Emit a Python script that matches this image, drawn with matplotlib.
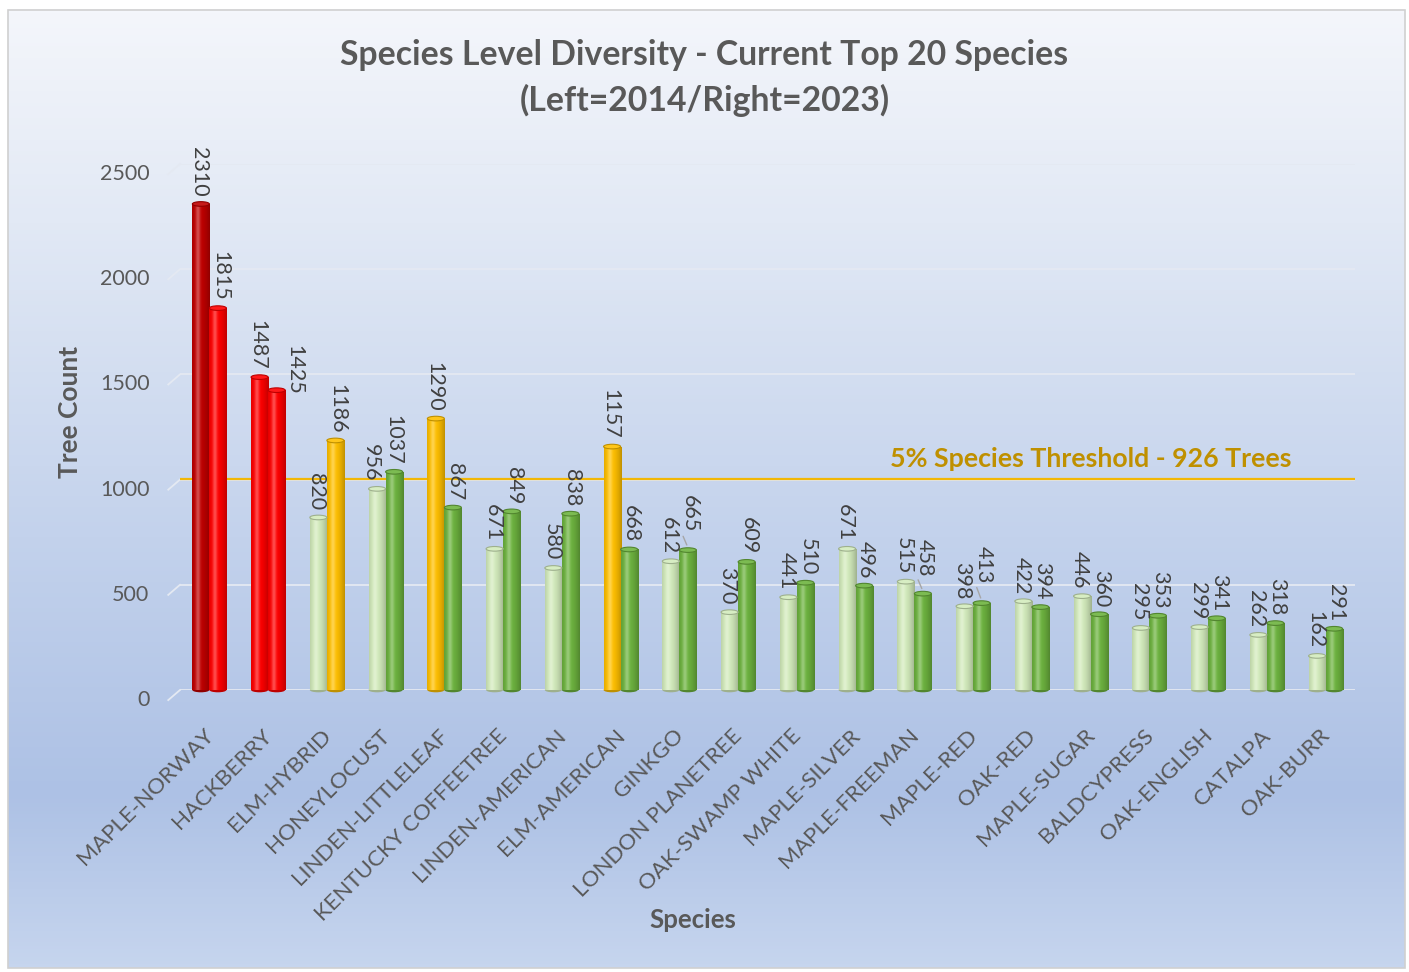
import numpy as np
import matplotlib
matplotlib.use("Agg")
import matplotlib.pyplot as plt
from matplotlib.colors import to_rgb, LinearSegmentedColormap
from matplotlib.patches import Ellipse, Rectangle
from matplotlib.transforms import ScaledTranslation

plt.rcParams['font.family'] = ['Lato', 'DejaVu Sans']

# ---- data ----
species = ["MAPLE-NORWAY", "HACKBERRY", "ELM-HYBRID", "HONEYLOCUST", "LINDEN-LITTLELEAF",
           "KENTUCKY COFFEETREE", "LINDEN-AMERICAN", "ELM-AMERICAN", "GINKGO", "LONDON PLANETREE",
           "OAK-SWAMP WHITE", "MAPLE-SILVER", "MAPLE-FREEMAN", "MAPLE-RED", "OAK-RED",
           "MAPLE-SUGAR", "BALDCYPRESS", "OAK-ENGLISH", "CATALPA", "OAK-BURR"]
count_2014 = [2310, 1487, 820, 956, 1290, 671, 580, 1157, 612, 370,
              441, 671, 515, 398, 422, 446, 295, 299, 262, 162]
count_2023 = [1815, 1425, 1186, 1037, 867, 849, 838, 668, 665, 609,
              510, 496, 458, 413, 394, 360, 353, 341, 318, 291]
# colour class of each bar, as coloured in the chart
class_2014 = ["darkred", "red", "pale", "pale", "gold", "pale", "pale", "gold", "pale", "pale",
              "pale", "pale", "pale", "pale", "pale", "pale", "pale", "pale", "pale", "pale"]
class_2023 = ["red", "red", "gold", "green", "green", "green", "green", "green", "green", "green",
              "green", "green", "green", "green", "green", "green", "green", "green", "green", "green"]
y_ticks = [0, 500, 1000, 1500, 2000, 2500]
threshold_label = "5% Species Threshold - 926 Trees"
threshold_drawn = 1005   # where the threshold line sits in the picture

palette = {"darkred": "#C00000", "red": "#FF0000", "gold": "#FFC000",
           "pale": "#D3EBBC", "green": "#6DB33F"}
TXT = "#595959"

# label nudges in pixels (dx, dy) where Excel moved a data label; True = leader line
nudge_2014 = {3: (-4, 0, False)}
nudge_2023 = {1: (16, -12, False), 3: (-3, 0, False), 8: (0, 10, True),
              12: (0, 10, True), 13: (0, 12, True)}

fig = plt.figure(figsize=(14.09, 9.72), dpi=100)
px = fig.dpi_scale_trans


def shift(dx, dy):
    return ScaledTranslation(dx / 100, dy / 100, px)


# background: gradient panel with thin grey border
bg = fig.add_axes([0, 0, 1, 1], zorder=-10)
bg.set_xlim(0, 1409)
bg.set_ylim(972, 0)
bg.axis("off")
grad = LinearSegmentedColormap.from_list(
    "bg", [(0.0, "#F4F6FB"), (0.22, "#E2E9F5"), (0.55, "#C3D2EC"),
           (0.82, "#ADC1E5"), (1.0, "#C6D5EE")])
bg.imshow(np.linspace(0, 1, 256).reshape(-1, 1), cmap=grad, aspect="auto",
          extent=(8, 1405, 968, 10), zorder=0)
bg.add_patch(Rectangle((8, 10), 1397, 958, fill=False, edgecolor="#D0D0D0", lw=1.2, zorder=1))

ax = fig.add_axes([180 / 1409, (972 - 690) / 972, 1175 / 1409, 526 / 972])
ax.patch.set_alpha(0)
for s in ax.spines.values():
    s.set_visible(False)

n = len(species)
x = np.arange(n)
bw = 0.29

# gridlines with a small 3-D stub on the left
grid_col = "#E4E9F2"
for v in y_ticks:
    ax.axhline(v, color=grid_col, lw=1.3, zorder=0)
    ax.plot([-0.5 - 0.2, -0.5], [v - 48, v], color=grid_col, lw=1.3, clip_on=False, zorder=0)


def shaded(base, t):
    b = np.array(to_rgb(base))
    k = np.cos(np.pi * (t - 0.38) / 1.35)
    c = b[None, :] * (0.72 + 0.28 * k[:, None])
    hl = 0.30 * np.exp(-((t - 0.33) / 0.13) ** 2)
    c = c * (1 - hl[:, None]) + hl[:, None]
    return np.clip(c, 0, 1)


t = np.linspace(0, 1, 64)
ell_h = 22
for offs, side, vals, cls, nudge in [(-bw / 2, -2, count_2014, class_2014, nudge_2014),
                                     (bw / 2, 2, count_2023, class_2023, nudge_2023)]:
    cols = [palette[c] for c in cls]
    bars = ax.bar(x + offs, vals, width=bw, color=cols, zorder=2, lw=0)
    for b, c in zip(bars, cols):
        x0, h = b.get_x(), b.get_height()
        img = shaded(c, t)[None, :, :]
        im = ax.imshow(img, extent=(x0, x0 + bw, 0, h), aspect="auto", zorder=3)
        im.set_clip_path(b)
        edge = np.array(to_rgb(c)) * 0.75
        top = np.array(to_rgb(c)) * 0.9 + 0.1
        ax.add_patch(Ellipse((x0 + bw / 2, h), bw, ell_h, facecolor=top, edgecolor=edge,
                             lw=0.8, zorder=4))
        ax.add_patch(Ellipse((x0 + bw / 2, 0), bw, ell_h, facecolor=edge, lw=0,
                             zorder=1.5, clip_on=False))
    for i, (xi, v) in enumerate(zip(x + offs, vals)):
        dx, dy, leader = nudge.get(i, (0, 0, False))
        ax.text(xi, v + 35, str(v), rotation=-90, ha="center", va="bottom",
                fontsize=15.5, color="#404040", zorder=5,
                transform=ax.transData + shift(dx + side, dy))
        if leader:
            ax.annotate("", xy=(xi, v + 12), xytext=(xi - 0.1, v + 35 + dy / 0.2104 * 0.9),
                        arrowprops=dict(arrowstyle="-", color="#A6A6A6", lw=1), zorder=5)

# threshold line and label
ax.axhline(threshold_drawn, color="#F2B705", lw=1.6, zorder=1)
ax.text(0.946, 0.439, threshold_label, transform=ax.transAxes, ha="right", va="center",
        fontsize=19.3, fontweight="bold", color="#BF9000")

ax.set_xlim(-0.5, n - 0.5)
ax.set_ylim(0, 2500)
ax.set_yticks(y_ticks)
ax.set_yticklabels([str(v) for v in y_ticks])
ax.tick_params(axis="y", length=0, pad=22, labelsize=15.5, labelcolor=TXT)
for tk in ax.yaxis.get_major_ticks():
    tk.label1.set_transform(tk.label1.get_transform() + shift(0, -8))
ax.set_xticks(x)
ax.set_xticklabels(species, rotation=45, ha="right", va="top", rotation_mode="anchor")
ax.tick_params(axis="x", length=0, pad=24, labelsize=16.2, labelcolor=TXT)
for tk in ax.xaxis.get_major_ticks():
    tk.label1.set_transform(tk.label1.get_transform() + shift(-6, -2))

fig.text(70 / 1409, 1 - 412 / 972, "Tree Count", rotation=90, ha="center", va="center",
         fontsize=19, fontweight="bold", color=TXT)
fig.text(693 / 1409, 1 - 920 / 972, "Species", ha="center", va="center",
         fontsize=18.5, fontweight="bold", color=TXT)

fig.text(0.5, 1 - 55 / 972, "Species Level Diversity - Current Top 20 Species",
         ha="center", va="center", fontsize=24.3, fontweight="bold", color=TXT)
fig.text(0.5, 1 - 100 / 972, "(Left=2014/Right=2023)",
         ha="center", va="center", fontsize=24.3, fontweight="bold", color=TXT)

fig.savefig("out.png", dpi=100)
